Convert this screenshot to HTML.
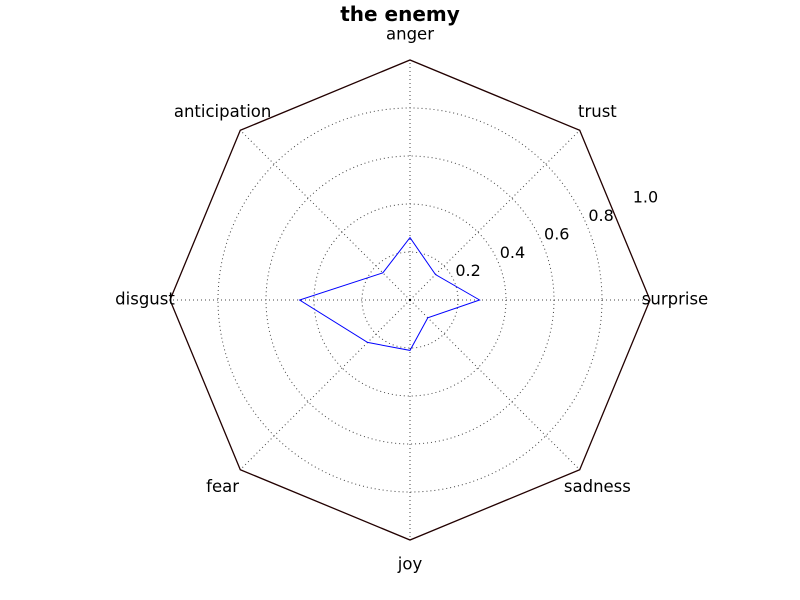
<!DOCTYPE html>
<html><head><meta charset="utf-8"><style>
body{margin:0;background:#fff;}
svg{display:block;font-family:"DejaVu Sans","Liberation Sans",sans-serif;}
</style></head><body>
<svg id="chart" width="800" height="600">
<rect width="800" height="600" fill="#fff"/>
<text x="400" y="21" text-anchor="middle" font-size="20" font-weight="bold">the enemy</text>
<g id="grid"></g><g id="frame"></g><g id="series"></g><g id="labels"></g>
</svg>
<script>
const categories=["surprise","trust","anger","anticipation","disgust","fear","joy","sadness"];
const values=[0.29,0.15,0.26,0.16,0.46,0.25,0.21,0.105];
const ticks=[0.2,0.4,0.6,0.8,1.0];
const tickLabels=["0.2","0.4","0.6","0.8","1.0"];
const cx=410,cy=300,R=240,NS="http://www.w3.org/2000/svg";
function ang(i){return i*2*Math.PI/categories.length;}
function px(r,a){return cx+r*R*Math.cos(a);}
function py(r,a){return cy-r*R*Math.sin(a);}
function mk(t,p,at){const e=document.createElementNS(NS,t);for(const k in at)e.setAttribute(k,at[k]);p.appendChild(e);return e;}
const grid=document.getElementById('grid'),frame=document.getElementById('frame'),ser=document.getElementById('series'),lab=document.getElementById('labels');
ticks.forEach((t,i)=>{if(t<1){const c=mk('circle',grid,{cx:cx,cy:cy,r:t*R,fill:'none',stroke:'#444','stroke-dasharray':'1,3','stroke-width':1});

}
const a=Math.PI/8;const tx=mk('text',lab,{x:px(t,a)+1,y:py(t,a)-10,'font-size':16,'dominant-baseline':'middle'});tx.textContent=tickLabels[i];

});
categories.forEach((c,i)=>{const a=ang(i);
const l=mk('line',grid,{x1:cx,y1:cy,x2:px(1,a),y2:py(1,a),stroke:'#444','stroke-dasharray':'1,3','stroke-width':1});


const t=mk('text',lab,{x:cx+265*Math.cos(a),y:cy-265*Math.sin(a),'font-size':16.5,'text-anchor':'middle','dominant-baseline':'middle'});t.textContent=c;

});
const oct=mk('polygon',frame,{points:categories.map((c,i)=>px(1,ang(i))+','+py(1,ang(i))).join(' '),fill:'none',stroke:'#200','stroke-width':1.3});


const dot=mk('circle',frame,{cx:cx,cy:cy,r:1.2,fill:'#000'});


const poly=mk('polygon',ser,{points:values.map((v,i)=>px(v,ang(i))+','+py(v,ang(i))).join(' '),fill:'none',stroke:'#00f','stroke-width':1});


</script>
</body></html>
